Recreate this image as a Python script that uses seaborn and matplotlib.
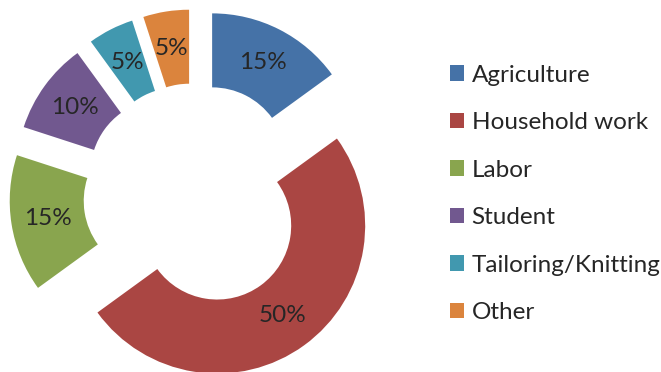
import matplotlib
matplotlib.use("Agg")
import matplotlib.pyplot as plt
import seaborn as sns

sns.set_theme(style="white")
plt.rcParams["font.family"] = ["Lato", "DejaVu Sans"]

categories = ["Agriculture", "Household work", "Labor", "Student",
              "Tailoring/Knitting", "Other"]
shares = [15, 50, 15, 10, 5, 5]
colors = ["#4572A7", "#AA4643", "#89A54E", "#71588F", "#4198AF", "#DB843D"]

W, H = 661, 372
fig = plt.figure(figsize=(W / 100, H / 100), dpi=100)
ax = fig.add_axes([0, 0, 1, 1])

# pixel geometry of the ring: centre and outer radius
cx, cy, scale = 195, 195, 148

wedges, texts, autotexts = ax.pie(
    shares,
    colors=colors,
    startangle=90,
    counterclock=False,
    explode=[0.255] * len(shares),
    radius=1.0,
    wedgeprops=dict(width=0.5, linewidth=0),
    autopct=lambda p: f"{p:.0f}%",
    pctdistance=0.75,
    textprops=dict(fontsize=17.5, color="#262626"),
    frame=True,
)
ax.set_xlim(-cx / scale, (W - cx) / scale)
ax.set_ylim(-(H - cy) / scale, cy / scale)
ax.set_aspect("auto")
ax.axis("off")

ax.legend(
    wedges, categories,
    loc="upper left",
    bbox_to_anchor=(440 / W, 1 - 55 / H),
    bbox_transform=fig.transFigure,
    frameon=False,
    fontsize=17.5,
    handlelength=0.6,
    handleheight=0.6,
    handletextpad=0.3,
    labelspacing=1.09,
    borderaxespad=0,
    labelcolor="#262626",
)

fig.savefig("out.png", dpi=100)
